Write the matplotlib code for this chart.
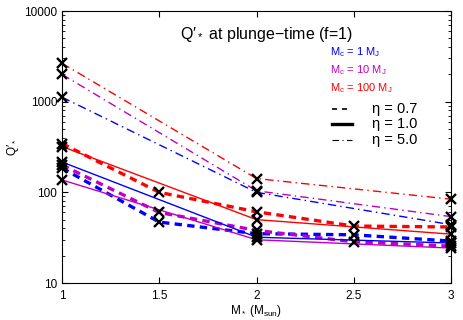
import matplotlib
matplotlib.use("Agg")
import matplotlib.pyplot as plt
from matplotlib.ticker import LogLocator, NullFormatter

plt.rcParams['font.family'] = ['Liberation Sans', 'DejaVu Sans']
plt.rcParams['mathtext.fontset'] = 'custom'
plt.rcParams['mathtext.rm'] = 'Liberation Sans'
plt.rcParams['mathtext.it'] = 'Liberation Sans'
plt.rcParams['mathtext.default'] = 'regular'

# stellar masses
ms_dashed = [1, 1.5, 2, 2.5, 3]
ms_other = [1, 2, 3]

# eta = 0.7 (dashed)
q07_1 = [185, 47, 35, 34, 29]
q07_10 = [200, 60, 38, 28.5, 25.5]
q07_100 = [345, 100, 61, 42.5, 41.5]

# eta = 1.0 (solid)
q10_1 = [216, 32, 27.6]
q10_10 = [137, 30, 24.3]
q10_100 = [320, 50, 34.6]

# eta = 5.0 (dash-dot)
q50_1 = [1120, 100, 44]
q50_10 = [2000, 104, 54]
q50_100 = [2650, 142, 84]

blue = '#0000ff'
mag = '#c000c0'
red = '#ff0000'

fig = plt.figure(figsize=(4.63, 3.2), dpi=100)
ax = fig.add_axes([0.134, 0.1156, 0.840, 0.850])

dash = (2.2, 1.6)
dashdot = (6, 3, 1, 3)

for q, c in [(q07_1, blue), (q07_10, mag), (q07_100, red)]:
    ax.plot(ms_dashed, q, color=c, lw=2.4, dashes=dash)
for q, c in [(q10_1, blue), (q10_10, mag), (q10_100, red)]:
    ax.plot(ms_other, q, color=c, lw=1.0)
for q, c in [(q50_1, blue), (q50_10, mag), (q50_100, red)]:
    ax.plot(ms_other, q, color=c, lw=1.0, dashes=dashdot)

# markers
for q in [q07_1, q07_10, q07_100]:
    ax.plot(ms_dashed, q, 'x', color='k', ms=7, mew=1.7, zorder=5, clip_on=False)
for q in [q10_1, q10_10, q10_100, q50_1, q50_10, q50_100]:
    ax.plot(ms_other, q, 'x', color='k', ms=7, mew=1.7, zorder=5, clip_on=False)

ax.set_yscale('log')
ax.set_xlim(1, 3)
ax.set_ylim(10, 10000)
ax.set_xticks([1, 1.5, 2, 2.5, 3])
ax.set_xticklabels(['1', '1.5', '2', '2.5', '3'])
ax.set_yticks([10, 100, 1000, 10000])
ax.set_yticklabels(['10', '100', '1000', '10000'])
ax.yaxis.set_minor_locator(LogLocator(base=10, subs=range(2, 10)))
ax.yaxis.set_minor_formatter(NullFormatter())
ax.tick_params(which='both', direction='in', top=True, right=True, labelsize=8.5)
ax.tick_params(axis='x', pad=5)
ax.tick_params(which='major', length=4, width=0.8)
ax.tick_params(which='minor', length=2, width=0.6)
for s in ax.spines.values():
    s.set_linewidth(0.8)

ax.set_xlabel('M$_*$ (M$_{sun}$)', fontsize=8.5, labelpad=1)
ax.set_ylabel("Q′$_*$", fontsize=8.5, labelpad=2)

ax.text(0.303, 0.915, "Q′$_*$ at plunge−time (f=1)", transform=ax.transAxes,
        fontsize=11.5, ha='left', va='center')

ax.text(0.69, 0.85, 'M$_c$ = 1 M$_J$', color=blue, fontsize=8, transform=ax.transAxes, va='center')
ax.text(0.69, 0.783, 'M$_c$ = 10 M$_J$', color=mag, fontsize=8, transform=ax.transAxes, va='center')
ax.text(0.69, 0.716, 'M$_c$ = 100 M$_J$', color=red, fontsize=8, transform=ax.transAxes, va='center')

leg_y = [0.640, 0.585, 0.526]
styles = [dict(lw=1.2, dashes=(3, 3)), dict(lw=2.4), dict(lw=0.8, dashes=(6, 3, 1, 3))]
labels = ['η = 0.7', 'η = 1.0', 'η = 5.0']
for y, st, lab in zip(leg_y, styles, labels):
    ax.plot([0.695, 0.746], [y, y], color='k', transform=ax.transAxes, **st)
    ax.text(0.797, y, lab, transform=ax.transAxes, fontsize=10.5, va='center')

fig.savefig('out.png', dpi=100)
